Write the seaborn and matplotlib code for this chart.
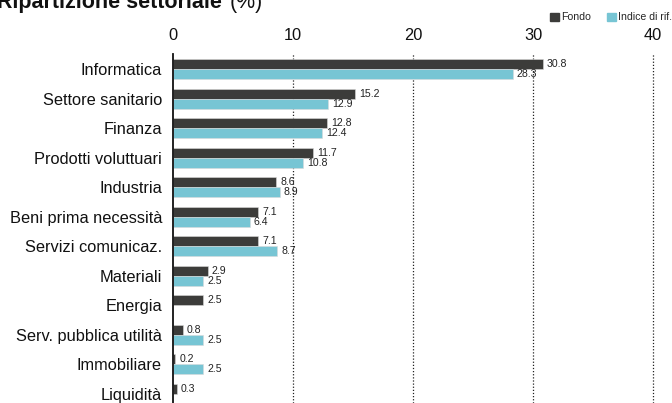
import numpy as np
import pandas as pd
import matplotlib
matplotlib.use("Agg")
import matplotlib.pyplot as plt
import seaborn as sns

# Dati della ripartizione settoriale
settori = [
    'Informatica',
    'Settore sanitario',
    'Finanza',
    'Prodotti voluttuari',
    'Industria',
    'Beni prima necessità',
    'Servizi comunicaz.',
    'Materiali',
    'Energia',
    'Serv. pubblica utilità',
    'Immobiliare',
    'Liquidità',
]
fondo = [30.8, 15.2, 12.8, 11.7, 8.6, 7.1, 7.1, 2.9, 2.5, 0.8, 0.2, 0.3]
indice = [28.3, 12.9, 12.4, 10.8, 8.9, 6.4, 8.7, 2.5, np.nan, 2.5, 2.5, np.nan]
serie = ['Fondo', 'Indice di rif.']
colori = ['#3c3c3a', '#77c5d4']
x_ticks = [0, 10, 20, 30, 40]

df = pd.DataFrame({
    'settore': settori * 2,
    'serie': [serie[0]] * len(settori) + [serie[1]] * len(settori),
    'valore': fondo + indice,
}).dropna()

sns.set_theme(style="white")
plt.rcParams['font.family'] = ['Liberation Sans', 'DejaVu Sans']

fig = plt.figure(figsize=(6.72, 4.03), dpi=100)
W, H = 672, 403
ax = fig.add_axes([173 / W, 0, (W - 173) / W, (H - 54) / H])

sns.barplot(data=df, x='valore', y='settore', hue='serie', order=settori,
            hue_order=serie, palette=colori, orient='h', width=0.68,
            dodge=True, ax=ax, legend=False, saturation=1,
            edgecolor='#d9d9d9', linewidth=0.4)

ax.set_xlim(0, (W - 173) / 12)
ax.set_ylim(11.315, -0.52)
ax.xaxis.tick_top()
ax.set_xticks(x_ticks)
ax.tick_params(axis='x', length=0, pad=8, labelsize=11.8, colors='#111111')
ax.tick_params(axis='y', length=0, pad=8, labelsize=11.8, colors='#111111')
ax.set_xlabel('')
ax.set_ylabel('')

for v in x_ticks[1:]:
    ax.axvline(v, color='#222222', linestyle=(0, (1, 1.5)), linewidth=0.9, zorder=0)

for s in ['top', 'right', 'bottom']:
    ax.spines[s].set_visible(False)
ax.spines['left'].set_color('#111111')
ax.spines['left'].set_linewidth(1.3)

for cont in ax.containers:
    ax.bar_label(cont, fmt='%.1f', padding=3, fontsize=7.6, color='#222222')

# Titolo
fig.text(-3 / W, 1 - 8 / H, 'Ripartizione settoriale', fontsize=15.5,
         fontweight='bold', va='baseline', ha='left', color='#111111')
fig.text(230 / W, 1 - 8 / H, '(%)', fontsize=15.5, va='baseline', ha='left',
         color='#111111')

# Legenda
handles = [plt.Rectangle((0, 0), 1, 1, color=c) for c in colori]
fig.legend(handles, serie, loc='center right', bbox_to_anchor=(1.0, 1 - 17.5 / H),
           ncol=2, frameon=False, fontsize=7.6, handlelength=0.8, handleheight=0.8,
           handletextpad=0.2, columnspacing=1.6, borderpad=0, borderaxespad=0)

fig.savefig('out.png', dpi=100)
